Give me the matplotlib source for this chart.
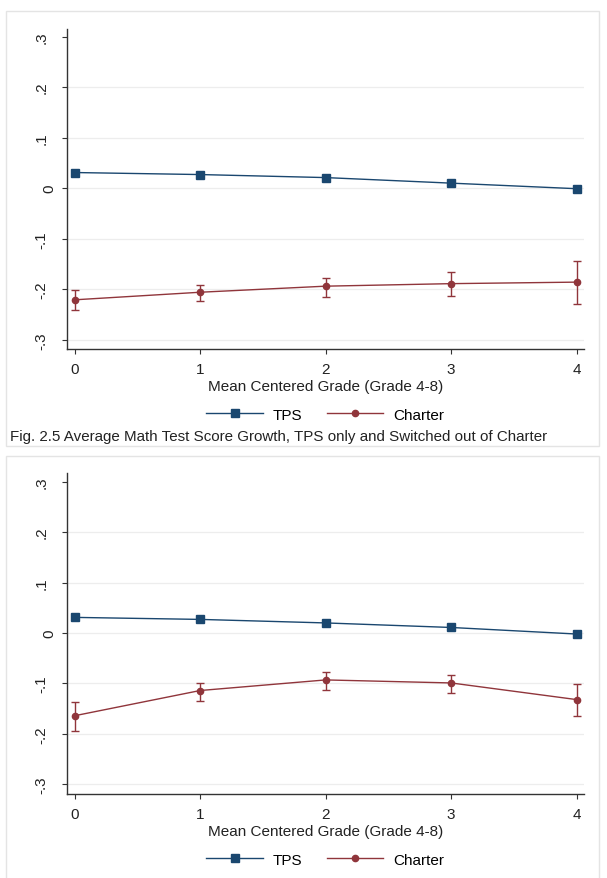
import numpy as np
from matplotlib import pyplot as plt
from matplotlib.patches import Rectangle
from matplotlib.transforms import ScaledTranslation

plt.rcParams['font.family'] = ['Liberation Sans', 'DejaVu Sans']

NAVY = "#1a476f"
MAROON = "#90353b"
GRID = "#ededed"
FRAME = "#e4e4e4"

grade = [0, 1, 2, 3, 4]
y_ticks = [-0.3, -0.2, -0.1, 0.0, 0.1, 0.2, 0.3]
y_tick_labels = ["-.3", "-.2", "-.1", "0", ".1", ".2", ".3"]

# upper panel
tps_top = [0.031, 0.027, 0.021, 0.010, -0.001]
charter_top = [-0.221, -0.206, -0.194, -0.189, -0.186]
charter_top_lo = [-0.241, -0.223, -0.216, -0.213, -0.229]
charter_top_hi = [-0.202, -0.191, -0.178, -0.165, -0.144]

# lower panel
tps_bottom = [0.031, 0.027, 0.020, 0.011, -0.002]
charter_bottom = [-0.164, -0.114, -0.093, -0.099, -0.132]
charter_bottom_lo = [-0.195, -0.134, -0.112, -0.118, -0.165]
charter_bottom_hi = [-0.136, -0.099, -0.077, -0.083, -0.102]

x_label = "Mean Centered Grade (Grade 4-8)"
caption = "Fig. 2.5 Average Math Test Score Growth, TPS only and Switched out of Charter"


def draw_panel(fig, ax, tps, charter, lo, hi, ylim):
    charter = np.array(charter)
    err = [charter - np.array(lo), np.array(hi) - charter]
    ax.set_facecolor("none")
    for t in y_ticks[:-1]:
        ax.axhline(t, color=GRID, lw=0.9, zorder=0)
    ax.plot(grade, tps, color=NAVY, lw=1.0, marker="s", markersize=5.5, label="TPS")
    ax.errorbar(grade, charter, yerr=err, color=MAROON, lw=1.0, marker="o", markersize=4.5,
                capsize=3, elinewidth=1.0, label="Charter")
    ax.set_xlim(-0.0645, 4.059)
    ax.set_ylim(*ylim)
    ax.set_xticks(grade)
    ax.set_yticks(y_ticks)
    ax.set_yticklabels(y_tick_labels, rotation=90, va="center")
    ax.tick_params(axis="both", direction="out", length=3.6, width=0.8, labelsize=11,
                   color="#333333", labelcolor="#222222")
    ax.tick_params(axis="y", pad=9.5)
    ax.tick_params(axis="x", pad=5.5)
    # stata puts the "0" label a bit closer to the axis
    zero_label = ax.yaxis.get_major_ticks()[3].label1
    zero_label.set_transform(zero_label.get_transform() + ScaledTranslation(6 / 72, 0, fig.dpi_scale_trans))
    for side in ("top", "right"):
        ax.spines[side].set_visible(False)
    for side in ("left", "bottom"):
        ax.spines[side].set_color("#333333")
        ax.spines[side].set_linewidth(1.0)
    ax.set_xlabel(x_label, fontsize=11, color="#222222", labelpad=2.5)
    handles, labels = ax.get_legend_handles_labels()
    ax.legend([handles[0], handles[1][0]], labels, loc="center", bbox_to_anchor=(0.5, -0.205),
              ncol=2, frameon=False, fontsize=11, handlelength=3.7, handletextpad=0.65,
              columnspacing=1.6)


fig = plt.figure(figsize=(6.07, 8.79), dpi=100)
W, H = 607, 879

fig.patches.append(Rectangle((6 / W, (H - 447) / H), 593 / W, 435 / H, transform=fig.transFigure,
                             facecolor="white", edgecolor=FRAME, lw=1.0, zorder=-1))
fig.patches.append(Rectangle((6 / W, -0.01), 593 / W, (H - 457) / H + 0.01, transform=fig.transFigure,
                             facecolor="white", edgecolor=FRAME, lw=1.0, zorder=-1))

ax_top = fig.add_axes([66.6 / W, (H - 350) / H, 517.4 / W, 320 / H])
draw_panel(fig, ax_top, tps_top, charter_top, charter_top_lo, charter_top_hi, (-0.3184, 0.3152))

ax_bottom = fig.add_axes([66.6 / W, (H - 795) / H, 517.4 / W, 320.7 / H])
draw_panel(fig, ax_bottom, tps_bottom, charter_bottom, charter_bottom_lo, charter_bottom_hi, (-0.3192, 0.3167))

fig.text(9.7 / W, (H - 437) / H, caption, fontsize=10.9, color="#222222", va="center", ha="left")

fig.savefig("out.png", dpi=100)
